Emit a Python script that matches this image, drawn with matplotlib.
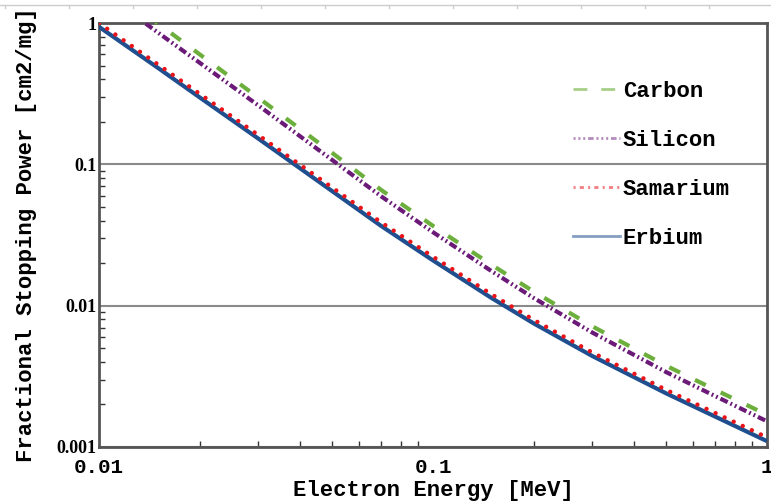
import numpy as np
import matplotlib
matplotlib.use("Agg")
import matplotlib.pyplot as plt
from matplotlib.lines import Line2D
from matplotlib.ticker import LogLocator, NullFormatter

# energies [MeV] and fractional stopping power [cm2/mg]
energy = [0.01, 0.015, 0.02, 0.03, 0.05, 0.07, 0.1, 0.15, 0.2, 0.3, 0.5, 0.7, 1.0]
carbon = [2.03, 0.995, 0.601, 0.296, 0.120, 0.0658, 0.0367, 0.0194, 0.0126,
          0.00714, 0.00375, 0.00254, 0.00169]
silicon = [1.73, 0.857, 0.524, 0.261, 0.107, 0.0593, 0.0331, 0.0175, 0.01135,
           0.00645, 0.00338, 0.00229, 0.00152]
samarium = [1.00, 0.51, 0.316, 0.161, 0.0683, 0.0388, 0.0222, 0.0120, 0.00795,
            0.00466, 0.00253, 0.00174, 0.00117]
erbium = [0.94, 0.482, 0.298, 0.152, 0.0644, 0.0366, 0.0209, 0.0113, 0.0075,
          0.0044, 0.00239, 0.00164, 0.0011]

x_ticks = [0.01, 0.1, 1]
x_tick_labels = ["0.01", "0.1", "1"]
y_ticks = [0.001, 0.01, 0.1, 1]
y_tick_labels = ["0.001", "0.01", "0.1", "1"]

plt.rcParams["lines.scale_dashes"] = False
mono = "Liberation Mono"

fig = plt.figure(figsize=(7.71, 5.01), dpi=100)
ax = fig.add_axes([99 / 771, 1 - 447 / 501, 668 / 771, 424 / 501])

c_green = "#6caf3c"
c_purple = "#6b1a78"
c_red = "#e8141a"
c_blue = "#1f4f8f"

ax.plot(energy, erbium, color=c_blue, lw=3.0, solid_capstyle="butt", zorder=3)
ax.plot(energy, samarium, color=c_red, lw=3.2, dashes=(0.01, 7.2),
        dash_capstyle="round", zorder=4)
ax.plot(energy, silicon, color=c_purple, lw=3.0,
        dashes=(5.8, 2.2, 1.3, 2.2, 1.3, 2.2), zorder=3)
ax.plot(energy, carbon, color=c_green, lw=3.0, dashes=(8.6, 12.0), zorder=4)

ax.set_xscale("log")
ax.set_yscale("log")
ax.set_xlim(0.01, 1)
ax.set_ylim(0.001, 1)

ax.set_xticks(x_ticks)
ax.set_xticklabels(x_tick_labels, fontfamily=mono, fontweight="bold", fontsize=15)
ax.set_yticks(y_ticks)
ax.set_yticklabels(y_tick_labels, fontfamily="Liberation Serif", fontweight="bold",
                   fontsize=13)
ax.xaxis.set_minor_locator(LogLocator(base=10, subs=np.arange(2, 10)))
ax.yaxis.set_minor_locator(LogLocator(base=10, subs=np.arange(2, 10)))
ax.xaxis.set_minor_formatter(NullFormatter())
ax.yaxis.set_minor_formatter(NullFormatter())
ax.tick_params(which="both", direction="in", color="#333333", width=1,
               top=False, right=False)
ax.tick_params(which="major", length=0)
ax.tick_params(which="minor", length=4)
ax.tick_params(axis="x", which="major", pad=8)
ax.tick_params(axis="y", which="major", pad=2)

ax.yaxis.grid(True, which="major", color="#8a8a8a", lw=1.5)
for s in ax.spines.values():
    s.set_color("#555555")
    s.set_linewidth(2)

ax.set_xlabel("Electron Energy [MeV]", fontfamily=mono, fontweight="bold",
              fontsize=16, labelpad=2)
ax.set_ylabel("Fractional Stopping Power [cm2/mg]", fontfamily=mono,
              fontweight="bold", fontsize=16, labelpad=14)

# legend with faded sample lines, as in the reference
handles = [
    Line2D([], [], color=c_green, lw=2, alpha=0.6, dashes=(10, 10)),
    Line2D([], [], color=c_purple, lw=2, alpha=0.5, dashes=(1.5, 2, 1.5, 2, 1.5, 2, 4, 2)),
    Line2D([], [], color=c_red, lw=2, alpha=0.55, dashes=(1.5, 3, 3, 3)),
    Line2D([], [], color=c_blue, lw=2, alpha=0.55),
]
ax.legend(handles, ["Carbon", "Silicon", "Samarium", "Erbium"],
          loc="upper left", bbox_to_anchor=((573 - 99) / 668, (447 - 81) / 424),
          frameon=False, borderpad=0, borderaxespad=0, handlelength=2.1,
          handletextpad=0.15, labelspacing=1.26,
          prop={"family": mono, "weight": "bold", "size": 16})

# light ruler line across the top of the image
fig.add_artist(Line2D([0, 1], [1 - 5 / 501, 1 - 5 / 501], color="#cccccc", lw=1))
for px in np.arange(5, 771, 64):
    fig.add_artist(Line2D([px / 771, px / 771], [1 - 5 / 501, 1 - 8 / 501],
                          color="#cccccc", lw=1))

fig.savefig("out.png", dpi=100)
